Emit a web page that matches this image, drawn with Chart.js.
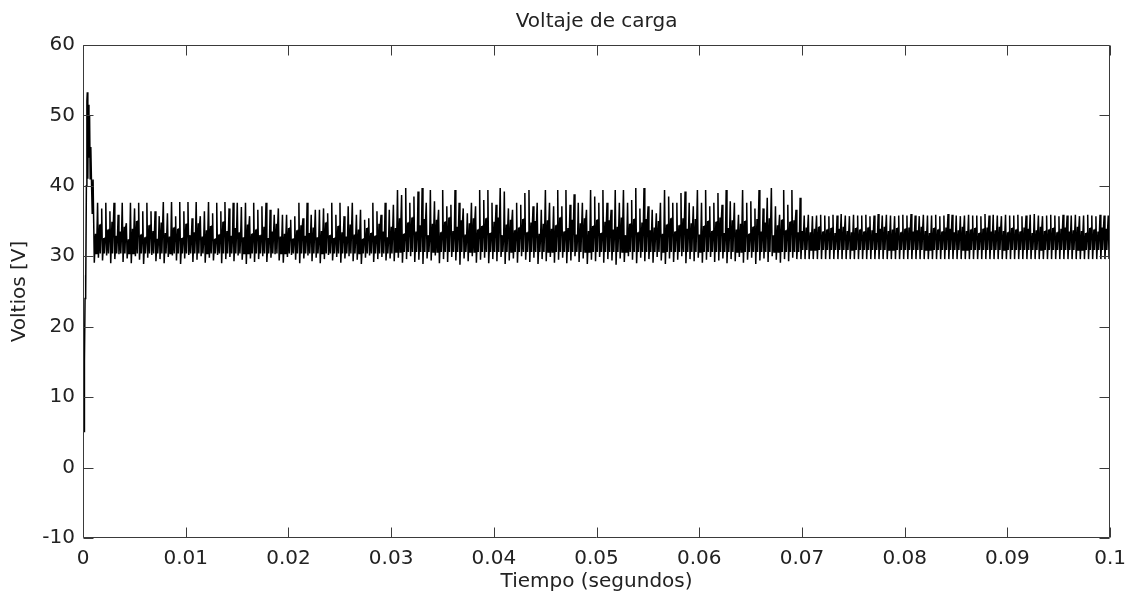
<!DOCTYPE html>
<html>
<head>
<meta charset="utf-8">
<script src="https://cdn.jsdelivr.net/npm/chart.js@4.4.1/dist/chart.umd.min.js"></script>
<style>
  body { margin: 0; background: #fff; }
</style>
</head>
<body>
<canvas id="c" width="1135" height="600"></canvas>
<script>
const TRANSIENT_T = [0, 0.0001, 0.00012, 0.00016, 0.0002, 0.00024, 0.00028, 0.00033, 0.00038, 0.00042, 0.00047, 0.00052, 0.00058, 0.00064, 0.0007, 0.00076, 0.00082, 0.0009, 0.00098];
const TRANSIENT_V = [4.3, 16.2, 5, 15, 24, 27.3, 24.5, 40, 52, 53.3, 41, 51.5, 44, 50, 41, 45.5, 41, 36, 40.9];

// ripple: one spike per switching cycle
const CYCLE_START = 0.0011;
const PERIOD = 0.0004;

// spike tops per cycle (V)
const PEAKS_A = [37.6, 36.8, 37.6, 36.4, 37.6, 35.9, 37.6, 34.7, 37.6, 36.8, 37.6, 36.4, 37.6, 36.4, 36.4, 35.7, 37.7, 36.1, 37.7, 35.7,
  37.7, 36.4, 37.7, 35.4, 37.7, 35.7, 36.4, 37.7, 36.1, 37.6, 36.4, 37.7, 36.8, 37.6, 37.6, 37.0, 37.6, 35.7, 37.6, 36.6];
const PEAKS_B = [37.1, 37.6, 36.6, 35.9, 36.8, 35.9, 35.9, 35.2, 35.7, 37.6, 35.4, 37.6, 35.9, 36.6, 36.6, 36.8, 36.1, 37.6, 35.9, 37.6,
  35.7, 37.1, 37.6, 35.9, 36.6, 35.2, 35.4, 37.6, 36.4, 35.9, 37.6, 36.6, 37.3];
const PEAKS_C = [39.4, 38.7, 39.7, 37.6, 38.5, 39.2, 39.7, 37.6, 39.4, 37.8, 36.6, 39.4, 37.1, 37.3, 39.4, 37.6, 36.8, 36.1, 37.6, 37.1,
  39.4, 38.0, 39.4, 37.6, 37.3, 39.7, 39.2, 36.8, 36.6, 37.6, 37.3, 39.0, 39.4, 37.1, 37.6, 36.6, 39.4, 37.6, 37.1, 39.4,
  37.1, 39.4, 37.3, 38.8, 37.6, 37.6, 36.6, 39.4, 38.5, 37.6, 39.4, 37.6, 36.6, 39.4, 37.6, 39.4, 37.6, 38.0, 39.7, 36.8,
  39.7, 37.1, 36.6, 36.1, 37.6, 39.4, 38.5, 37.6, 37.6, 39.0, 39.2, 37.6, 37.1, 39.4, 37.6, 39.4, 37.1, 37.6, 39.0, 37.3,
  39.4, 37.8, 37.6, 35.9, 39.4, 37.6, 37.8, 36.8, 39.4, 36.8, 38.3, 39.7, 37.1, 35.9, 39.4, 37.3, 39.4, 36.6, 38.3];
const PEAKS_D = [35.8, 35.9, 35.7, 35.8, 35.9, 35.8, 35.7, 35.9, 35.8, 36.0, 35.8, 35.7, 35.9, 35.8, 35.8, 35.9, 35.7, 35.8, 36.0, 35.8,
  35.9, 35.8, 35.7, 35.8, 35.9, 35.8, 36.0, 35.8, 35.7, 35.9, 35.8, 35.8, 35.9, 35.7, 35.8, 36.0, 35.9, 35.8, 35.7, 35.8,
  35.9, 35.8, 35.8, 35.7, 36.0, 35.8, 35.9, 35.8, 35.7, 35.9, 35.8, 35.8, 35.9, 35.7, 35.8, 35.9, 36.0, 35.8, 35.7, 35.8,
  35.9, 35.8, 35.7, 35.9, 35.8, 35.8, 35.9, 35.7, 35.8, 35.9, 35.8, 35.7, 35.9, 35.8, 35.8];

// top of the dense band before each spike (V)
const KNEES_A = [33.2, 34.5, 32.6, 33.8, 34.9, 32.9, 33.5, 34.2, 32.4, 33.9, 35.0, 33.1, 32.7, 34.4, 33.6, 32.5, 34.8, 33.3, 32.8, 34.1,
  33.9, 32.6, 34.6, 33.0, 33.4, 34.7, 32.8, 33.7, 34.3, 32.5, 33.1, 34.9, 33.6, 32.9, 34.0, 33.4, 32.7, 34.5, 33.2, 33.8];
const KNEES_B = [33.0, 34.2, 32.6, 33.5, 34.6, 32.8, 33.2, 34.0, 32.5, 33.7, 34.4, 32.9, 33.3, 34.1, 32.7, 33.6, 34.8, 33.0, 32.6, 34.3,
  33.4, 32.8, 34.5, 33.1, 33.8, 32.5, 34.0, 33.3, 32.9, 34.6, 33.5, 32.7, 34.2];
const KNEES_C = [34.0, 35.4, 33.2, 34.8, 35.5, 33.5, 34.4, 35.3, 33.0, 34.6, 35.2, 33.4, 34.9, 35.5, 33.6, 34.2, 35.1, 33.1, 34.7, 35.4,
  33.8, 34.3, 35.4, 33.3, 34.9, 35.5, 33.0, 34.5, 35.2, 33.7, 34.1, 35.3, 33.4, 34.8, 35.0, 33.2, 34.6, 35.1, 33.9, 34.4,
  35.5, 33.5, 34.0, 35.2, 33.1, 34.7, 35.4, 33.6, 34.3, 35.2, 33.3, 34.9, 35.1, 33.8, 34.2, 35.5, 33.0, 34.6, 35.3, 33.4,
  34.8, 35.3, 33.7, 34.1, 35.0, 33.2, 34.5, 35.4, 33.5, 34.4, 35.4, 33.9, 34.7, 35.3, 33.1, 34.3, 35.0, 33.6, 34.9, 35.5,
  33.3, 34.0, 35.1, 33.8, 34.6, 35.0, 33.2, 34.2, 35.3, 33.5, 34.8, 35.4, 33.0, 34.4, 35.2, 33.7, 34.9, 35.1, 33.4];
const KNEES_D = [33.6, 34.1, 33.4, 33.9, 34.2, 33.5, 33.8, 34.0, 33.3, 33.9, 34.2, 33.6, 33.4, 34.0, 33.8, 33.5, 34.1, 33.7, 33.3, 33.9,
  34.2, 33.6, 33.8, 34.0, 33.4, 33.9, 34.1, 33.5, 33.7, 34.2, 33.6, 33.3, 34.0, 33.8, 33.5, 34.1, 33.9, 33.4, 33.7, 34.2,
  33.6, 33.8, 34.0, 33.3, 33.9, 34.1, 33.5, 33.7, 34.2, 33.6, 33.4, 34.0, 33.8, 33.5, 34.1, 33.9, 33.3, 33.7, 34.2, 33.6,
  33.8, 34.0, 33.4, 33.9, 34.1, 33.5, 33.7, 34.2, 33.6, 33.3, 34.0, 33.8, 33.5, 34.1, 33.9];

// floor of each cycle (V)
const TROUGHS_A = [29.1, 29.8, 29.4, 30.1, 29.0, 29.6, 30.3, 29.2, 29.7, 29.0, 30.0, 29.5, 28.9, 29.8, 30.2, 29.3, 29.6, 29.0, 29.9, 30.1,
  29.4, 28.9, 29.7, 30.2, 29.2, 29.5, 30.0, 29.1, 29.8, 29.4, 30.2, 29.0, 29.6, 29.9, 29.3, 30.1, 29.5, 28.9, 29.7, 29.2];
const TROUGHS_B = [29.6, 30.0, 29.2, 29.8, 30.3, 29.4, 29.1, 29.9, 30.2, 29.5, 29.0, 29.7, 30.1, 29.3, 29.8, 29.0, 29.6, 30.2, 29.4, 29.9,
  29.1, 29.7, 30.0, 29.3, 29.5, 28.9, 29.8, 30.1, 29.2, 29.6, 29.9, 29.4, 29.7];
const TROUGHS_C = [29.3, 29.8, 29.1, 29.6, 30.0, 29.2, 29.5, 28.9, 29.7, 29.4, 30.1, 29.0, 29.6, 29.2, 29.9, 29.4, 28.8, 29.7, 29.3, 30.0,
  29.1, 29.5, 29.8, 29.0, 29.6, 29.3, 29.9, 28.9, 29.4, 29.7, 29.1, 30.0, 29.5, 29.2, 29.8, 28.9, 29.6, 29.3, 29.9, 29.1,
  29.5, 29.8, 29.0, 29.4, 30.0, 29.2, 29.7, 28.9, 29.5, 29.3, 29.9, 29.1, 29.6, 29.4, 28.8, 29.7, 29.2, 30.0, 29.5, 29.0,
  29.8, 29.3, 29.6, 29.1, 29.9, 29.4, 28.9, 29.7, 29.2, 29.5, 30.0, 29.0, 29.6, 29.3, 29.8, 29.1, 29.5, 29.9, 29.2, 29.4,
  29.7, 29.0, 29.6, 29.3, 29.9, 29.1, 29.5, 29.8, 28.9, 29.4, 29.7, 29.2, 30.0, 29.5, 29.1, 29.6, 29.3, 29.8, 29.6];
const TROUGH_D = 29.6;

// inner dip inside each cycle, per stretch A, B, C, D (V)
const DIPS = [30.4, 30.4, 30.6, 30.9];

const Y_TICKS = ["-10", "0", "10", "20", "30", "40", "50", "60"];
const X_TICKS = ["0", "0.01", "0.02", "0.03", "0.04", "0.05", "0.06", "0.07", "0.08", "0.09", "0.1"];

const FONT = "'DejaVu Sans', Verdana, sans-serif";
const TEXT_COLOR = "#222";
const AXIS_COLOR = "#3a3a3a";

const buildPoints = () => {
    const pts = TRANSIENT_T.map((t, i) => ({ x: t, y: TRANSIENT_V[i] }));
    const parts = [PEAKS_A, PEAKS_B, PEAKS_C, PEAKS_D];
    const peaks = [...PEAKS_A, ...PEAKS_B, ...PEAKS_C, ...PEAKS_D];
    const knees = [...KNEES_A, ...KNEES_B, ...KNEES_C, ...KNEES_D];
    const troughs = [...TROUGHS_A, ...TROUGHS_B, ...TROUGHS_C];
    let seg = 0, segEnd = parts[0].length;
    peaks.forEach((peak, i) => {
        if (i >= segEnd) { seg++; segEnd += parts[seg].length; }
        const t0 = CYCLE_START + i * PERIOD;
        const floor = i < troughs.length ? troughs[i] : TROUGH_D;
        pts.push({ x: t0, y: floor });
        pts.push({ x: t0 + PERIOD * 0.3, y: knees[i] });
        pts.push({ x: t0 + PERIOD * 0.45, y: DIPS[seg] });
        pts.push({ x: t0 + PERIOD * 0.65, y: knees[i] });
        pts.push({ x: t0 + PERIOD * 0.8, y: peak });
    });
    pts.push({ x: CYCLE_START + peaks.length * PERIOD, y: TROUGH_D });
    return pts;
}

// matlab style box with inward ticks, and the title over the plot area
const matlabFrame = {
    id: "matlabFrame",
    afterDraw(chart) {
        const ctx = chart.ctx;
        const a = chart.chartArea;
        const xs = chart.scales.x;
        const ys = chart.scales.y;
        const L = Math.round(a.left) + 0.5, R = Math.round(a.right) - 0.5;
        const T = Math.round(a.top) + 0.5, B = Math.round(a.bottom) - 0.5;
        ctx.save();
        ctx.strokeStyle = AXIS_COLOR;
        ctx.lineWidth = 1;
        ctx.beginPath();
        ctx.rect(L, T, R - L, B - T);
        xs.ticks.forEach((tk) => {
            const px = Math.round(xs.getPixelForValue(tk.value)) + 0.5;
            ctx.moveTo(px, B); ctx.lineTo(px, B - 10);
            ctx.moveTo(px, T); ctx.lineTo(px, T + 10);
        });
        ys.ticks.forEach((tk) => {
            const py = Math.round(ys.getPixelForValue(tk.value)) + 0.5;
            ctx.moveTo(L, py); ctx.lineTo(L + 10, py);
            ctx.moveTo(R, py); ctx.lineTo(R - 10, py);
        });
        ctx.stroke();
        ctx.fillStyle = TEXT_COLOR;
        ctx.font = "20px " + FONT;
        ctx.textAlign = "center";
        ctx.textBaseline = "middle";
        ctx.fillText("Voltaje de carga", (a.left + a.right) / 2, 22);
        ctx.restore();
    }
};

new Chart(document.getElementById("c").getContext("2d"), {
    type: "line",
    data: {
        datasets: [{
            data: buildPoints(),
            borderColor: "#000",
            borderWidth: 1.5,
            pointRadius: 0,
            tension: 0,
            fill: false
        }]
    },
    options: {
        responsive: false,
        animation: false,
        devicePixelRatio: 1,
        layout: { padding: { left: 0, right: 23, top: 45, bottom: 0 } },
        plugins: { legend: { display: false }, tooltip: { enabled: false }, title: { display: false } },
        scales: {
            x: {
                type: "linear",
                min: 0,
                max: 0.1,
                afterFit: (scale) => { scale.height = 62; },
                grid: { display: false, drawTicks: false },
                border: { display: false },
                ticks: {
                    stepSize: 0.01,
                    autoSkip: false,
                    maxRotation: 0,
                    padding: 9,
                    color: TEXT_COLOR,
                    font: { family: FONT, size: 20 },
                    callback: (v, i) => X_TICKS[i]
                },
                title: {
                    display: true,
                    text: "Tiempo (segundos)",
                    color: TEXT_COLOR,
                    font: { family: FONT, size: 20 },
                    padding: { top: 0, bottom: 6 }
                }
            },
            y: {
                min: -10,
                max: 60,
                afterFit: (scale) => { scale.width = 83; },
                grid: { display: false, drawTicks: false },
                border: { display: false },
                ticks: {
                    stepSize: 10,
                    autoSkip: false,
                    padding: 8,
                    color: TEXT_COLOR,
                    font: { family: FONT, size: 20 },
                    callback: (v, i) => Y_TICKS[i]
                },
                title: {
                    display: true,
                    text: "Voltios [V]",
                    color: TEXT_COLOR,
                    font: { family: FONT, size: 20 },
                    padding: { top: 8, bottom: 0 }
                }
            }
        }
    },
    plugins: [matlabFrame]
});
</script>
</body>
</html>
